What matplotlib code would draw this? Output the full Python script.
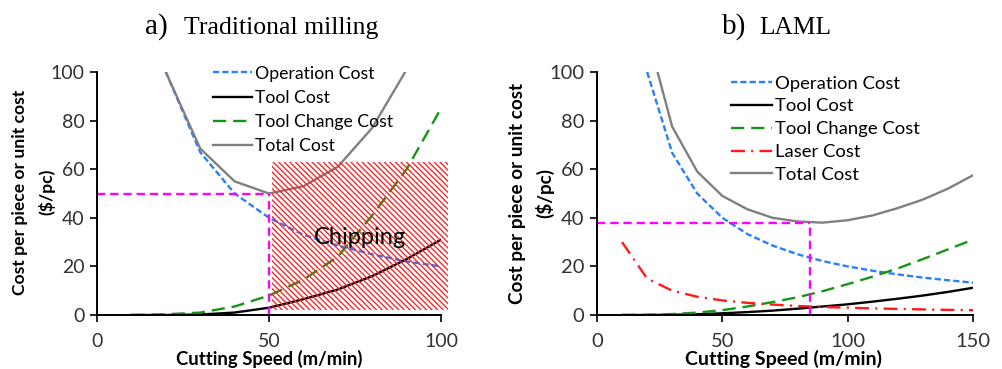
import matplotlib
matplotlib.use("Agg")
import matplotlib.pyplot as plt
from matplotlib.patches import Rectangle

plt.rcParams['font.family'] = ['Lato', 'DejaVu Sans']
plt.rcParams['lines.scale_dashes'] = False
plt.rcParams['hatch.linewidth'] = 0.95

# ---------------- data: a) Traditional milling ----------------
op_a_x = [20, 30, 40, 50, 60, 70, 80, 90, 100]
op_a = [100, 67, 50, 40, 33, 28.6, 25, 22, 20]
tool_a_x = [10, 20, 30, 40, 50, 60, 70, 80, 90, 100]
tool_a = [0, 0, 0.2, 1, 3, 6.5, 10.5, 16, 23, 31]
tc_a_x = [10, 20, 30, 40, 50, 60, 70, 80, 90, 100]
tc_a = [0, 0.3, 1, 3.5, 8, 14.5, 24, 41, 60, 85]
total_a_x = [20, 30, 40, 50, 60, 70, 80, 90]
total_a = [100, 68.5, 55, 50, 53, 61, 77, 101]
opt_a = (50, 50)
chip_x = (51, 102)
chip_y = (2, 63)

# ---------------- data: b) LAML ----------------
op_b_x = [20, 30, 40, 50, 60, 70, 80, 90, 100, 110, 120, 130, 140, 150]
op_b = [100, 66.7, 50, 40, 33.3, 28.6, 25, 22.2, 20, 18.2, 16.7, 15.4, 14.3, 13.3]
v_b = [10, 20, 30, 40, 50, 60, 70, 80, 90, 100, 110, 120, 130, 140, 150]
tool_b = [0, 0, 0.1, 0.3, 0.7, 1.2, 1.8, 2.6, 3.5, 4.4, 5.5, 6.7, 8.0, 9.5, 11.2]
tc_b = [0, 0.1, 0.4, 1.0, 2.0, 3.5, 5.3, 7.3, 9.8, 12.7, 15.8, 19.2, 23, 27, 31]
laser_b = [30, 15, 10, 7.5, 6, 5, 4.3, 3.7, 3.3, 3, 2.7, 2.5, 2.3, 2.1, 2]
total_b_x = [20, 30, 40, 50, 60, 70, 80, 90, 100, 110, 120, 130, 140, 150]
total_b = [116, 77.5, 59, 49, 43.5, 40, 38.5, 38, 39, 41, 44, 47.5, 52, 57.5]
opt_b = (85, 38)

labels = ['Operation Cost', 'Tool Cost', 'Tool Change Cost', 'Laser Cost', 'Total Cost']

C_OP = '#2a7fff'
C_TOOL = 'black'
C_TC = '#149614'
C_LASER = '#ff1a1a'
C_TOT = '#808080'
C_MAG = '#ff00ff'
TICKC = '#333333'

fig = plt.figure(figsize=(10.03, 3.69), dpi=100)
W, H = 1003.0, 369.0

def px_axes(x0, x1, ytop, ybot):
    return fig.add_axes([x0 / W, 1 - ybot / H, (x1 - x0) / W, (ybot - ytop) / H])

axA = px_axes(97, 441, 72, 315)
axB = px_axes(597, 973, 72, 315)

LW = 1.7
ds_op = (0, (4.5, 2.2))
ds_tc = (0, (9.5, 5))
ds_laser = (0, (10, 4.5, 1.5, 4.5))
ds_mag = (0, (6, 3.5))

def style(ax, xmax, xticks, fs):
    ax.set_ylim(0, 100)
    ax.set_xlim(0, xmax)
    ax.set_yticks([0, 20, 40, 60, 80, 100])
    ax.set_xticks(xticks)
    for s in ['top', 'right']:
        ax.spines[s].set_visible(False)
    for s in ['left', 'bottom']:
        ax.spines[s].set_linewidth(1.4)
        ax.spines[s].set_color('black')
    ax.tick_params(axis='y', length=5, width=1.2, pad=4, labelsize=fs, labelcolor=TICKC)
    ax.tick_params(axis='x', length=5, width=1.2, pad=8, labelsize=fs, labelcolor=TICKC)
    ax.set_facecolor('none')

# ---- panel a ----
h_op, = axA.plot(op_a_x, op_a, color=C_OP, lw=LW, linestyle=ds_op, zorder=2)
h_tool, = axA.plot(tool_a_x, tool_a, color=C_TOOL, lw=LW, zorder=2)
h_tc, = axA.plot(tc_a_x, tc_a, color=C_TC, lw=LW, linestyle=ds_tc, zorder=2)
h_tot, = axA.plot(total_a_x, total_a, color=C_TOT, lw=LW, zorder=2)
axA.plot([0, opt_a[0]], [opt_a[1], opt_a[1]], color=C_MAG, lw=LW, linestyle=ds_mag, zorder=2.5)
axA.plot([opt_a[0], opt_a[0]], [0, opt_a[1]], color=C_MAG, lw=LW, linestyle=ds_mag, zorder=2.5)
rect = Rectangle((chip_x[0], chip_y[0]), chip_x[1] - chip_x[0], chip_y[1] - chip_y[0],
                 facecolor='none', edgecolor='#ff2020', linewidth=0, hatch='\\' * 6,
                 zorder=3, clip_on=False)
axA.add_patch(rect)
axA.text(76.5, 32, 'Chipping', fontsize=17, ha='center', va='center', color='black', zorder=4)
style(axA, 100, [0, 50, 100], 14)
legA = axA.legend([h_op, h_tool, h_tc, h_tot], [labels[0], labels[1], labels[2], labels[4]],
                  loc='upper left', bbox_to_anchor=(213 / W, 1 - 65.5 / H), bbox_transform=fig.transFigure,
                  frameon=False, fontsize=12.7, handlelength=2.2, handletextpad=0.2,
                  labelspacing=0.47, borderpad=0, borderaxespad=0)
legA.set_zorder(6)

# ---- panel b ----
g_op, = axB.plot(op_b_x, op_b, color=C_OP, lw=LW, linestyle=ds_op, zorder=2)
g_tool, = axB.plot(v_b, tool_b, color=C_TOOL, lw=LW, zorder=2)
g_tc, = axB.plot(v_b, tc_b, color=C_TC, lw=LW, linestyle=ds_tc, zorder=2)
g_las, = axB.plot(v_b, laser_b, color=C_LASER, lw=LW, linestyle=ds_laser, zorder=2)
g_tot, = axB.plot(total_b_x, total_b, color=C_TOT, lw=LW, zorder=2)
axB.plot([0, opt_b[0]], [opt_b[1], opt_b[1]], color=C_MAG, lw=LW, linestyle=ds_mag, zorder=2.5)
axB.plot([opt_b[0], opt_b[0]], [0, opt_b[1]], color=C_MAG, lw=LW, linestyle=ds_mag, zorder=2.5)
style(axB, 150, [0, 50, 100, 150], 14.5)
legB = axB.legend([g_op, g_tool, g_tc, g_las, g_tot], labels,
                  loc='upper left', bbox_to_anchor=(731 / W, 1 - 75.5 / H), bbox_transform=fig.transFigure,
                  frameon=False, fontsize=13.3, handlelength=2.2, handletextpad=0.2,
                  labelspacing=0.37, borderpad=0, borderaxespad=0)

# ---- axis labels ----
def ylabel(xc1, xc2, yc, fs):
    fig.text(xc1 / W, 1 - yc / H, 'Cost per piece or unit cost', rotation=90, ha='center', va='center',
             fontsize=fs, fontweight='bold', color='black')
    fig.text(xc2 / W, 1 - yc / H, '($/pc)', rotation=90, ha='center', va='center',
             fontsize=fs, fontweight='bold', color='black')

ylabel(20, 47, 192, 12.6)
ylabel(518, 545, 193, 13.6)
fig.text(269 / W, 1 - 359 / H, 'Cutting Speed (m/min)', ha='center', va='center',
         fontsize=13.3, fontweight='bold', color='black')
fig.text(784 / W, 1 - 358.5 / H, 'Cutting Speed (m/min)', ha='center', va='center',
         fontsize=14.0, fontweight='bold', color='black')

# ---- titles ----
SERIF = ['Liberation Serif', 'DejaVu Serif']
fig.text(145 / W, 1 - 34 / H, 'a)', family=SERIF, fontsize=21, va='baseline', ha='left')
fig.text(184 / W, 1 - 34 / H, 'Traditional milling', family=SERIF, fontsize=18.5, va='baseline', ha='left')
fig.text(722 / W, 1 - 34 / H, 'b)', family=SERIF, fontsize=21, va='baseline', ha='left')
fig.text(759 / W, 1 - 34 / H, 'LAML', family=SERIF, fontsize=18.3, va='baseline', ha='left')

fig.savefig('out.png', dpi=100)
